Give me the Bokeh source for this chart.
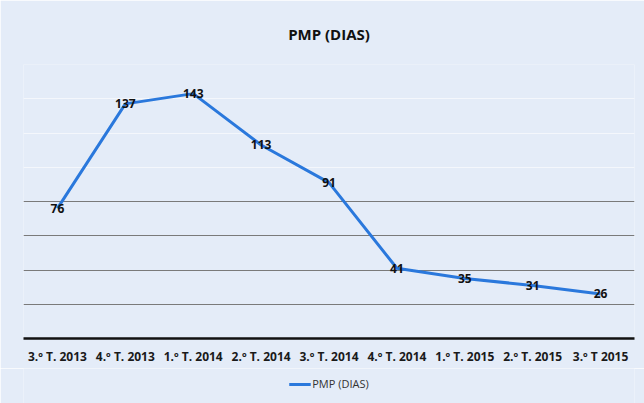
from bokeh.plotting import figure
from bokeh.layouts import column
from bokeh.models import Range1d, FactorRange, Title, Legend, LegendItem, ColumnDataSource, Grid, FixedTicker
from bokeh.core.properties import value
from bokeh.embed import file_html
from bokeh.resources import INLINE

categories = ["3.º T. 2013", "4.º T. 2013", "1.º T. 2014", "2.º T. 2014", "3.º T. 2014",
              "4.º T. 2014", "1.º T. 2015", "2.º T. 2015", "3.º T 2015"]
pmp = [76, 137, 143, 113, 91, 41, 35, 31, 26]
grid_ticks = [20, 40, 60, 80, 100, 120, 140, 160]

BG = "#e4ecf8"
FONT = "Open Sans"
LINE = "#2a78dc"

src = ColumnDataSource(dict(x=categories, y=pmp, t=[str(v) for v in pmp]))

p = figure(width=644, height=368, x_range=FactorRange(*categories), y_range=Range1d(0, 160),
           output_backend="svg", toolbar_location=None,
           min_border_left=23, min_border_right=10, min_border_top=64, min_border_bottom=30)
p.background_fill_color = BG
p.border_fill_color = BG
p.outline_line_color = None

t = Title(text="PMP (DIAS)", align="center", text_font=FONT, text_font_size="15px",
          text_font_style="bold", text_color="#111111", standoff=42)
p.add_layout(t, "above")

p.yaxis.visible = False
p.xgrid.visible = False
p.ygrid.ticker = FixedTicker(ticks=grid_ticks[:4])
p.ygrid.grid_line_color = "#7a7a7a"
p.ygrid.grid_line_width = 1
g2 = Grid(dimension=1, ticker=FixedTicker(ticks=grid_ticks[4:]), grid_line_color="#ffffff",
          grid_line_alpha=0.6, grid_line_width=1)
p.add_layout(g2)

ax = p.xaxis[0]
ax.axis_line_color = "#111111"
ax.axis_line_width = 2.5
ax.major_tick_line_color = None
ax.minor_tick_line_color = None
ax.major_label_text_font = FONT
ax.major_label_text_font_size = "12px"
ax.major_label_text_font_style = "bold"
ax.major_label_text_color = "#1a1a1a"
ax.major_label_standoff = 3

p.line("x", "y", source=src, line_color=LINE, line_width=3)
p.text("x", "y", text="t", source=src, text_align="center", text_baseline="middle",
       text_font=value(FONT), text_font_size="12px", text_font_style="bold", text_color="#111111")

# legend strip below the chart
p2 = figure(width=644, height=35, x_range=FactorRange(*categories), y_range=Range1d(1000, 1001),
            output_backend="svg", toolbar_location=None,
            min_border_left=0, min_border_right=0, min_border_top=0, min_border_bottom=0)
p2.background_fill_color = BG
p2.border_fill_color = BG
p2.outline_line_color = None
p2.xaxis.visible = False
p2.yaxis.visible = False
p2.grid.visible = False
r2 = p2.line("x", "y", source=src, line_color=LINE, line_width=3)
leg = Legend(items=[LegendItem(label="PMP (DIAS)", renderers=[r2])], orientation="horizontal",
             location="top_center", background_fill_alpha=0, border_line_color=None,
             label_text_font=FONT, label_text_font_size="11px", label_text_color="#333333",
             glyph_width=22, glyph_height=12, label_height=12, label_standoff=2,
             padding=0, margin=8)
p2.add_layout(leg, "center")

layout = column(p, p2, spacing=0)
open("out.html", "w").write(file_html(layout, INLINE))
